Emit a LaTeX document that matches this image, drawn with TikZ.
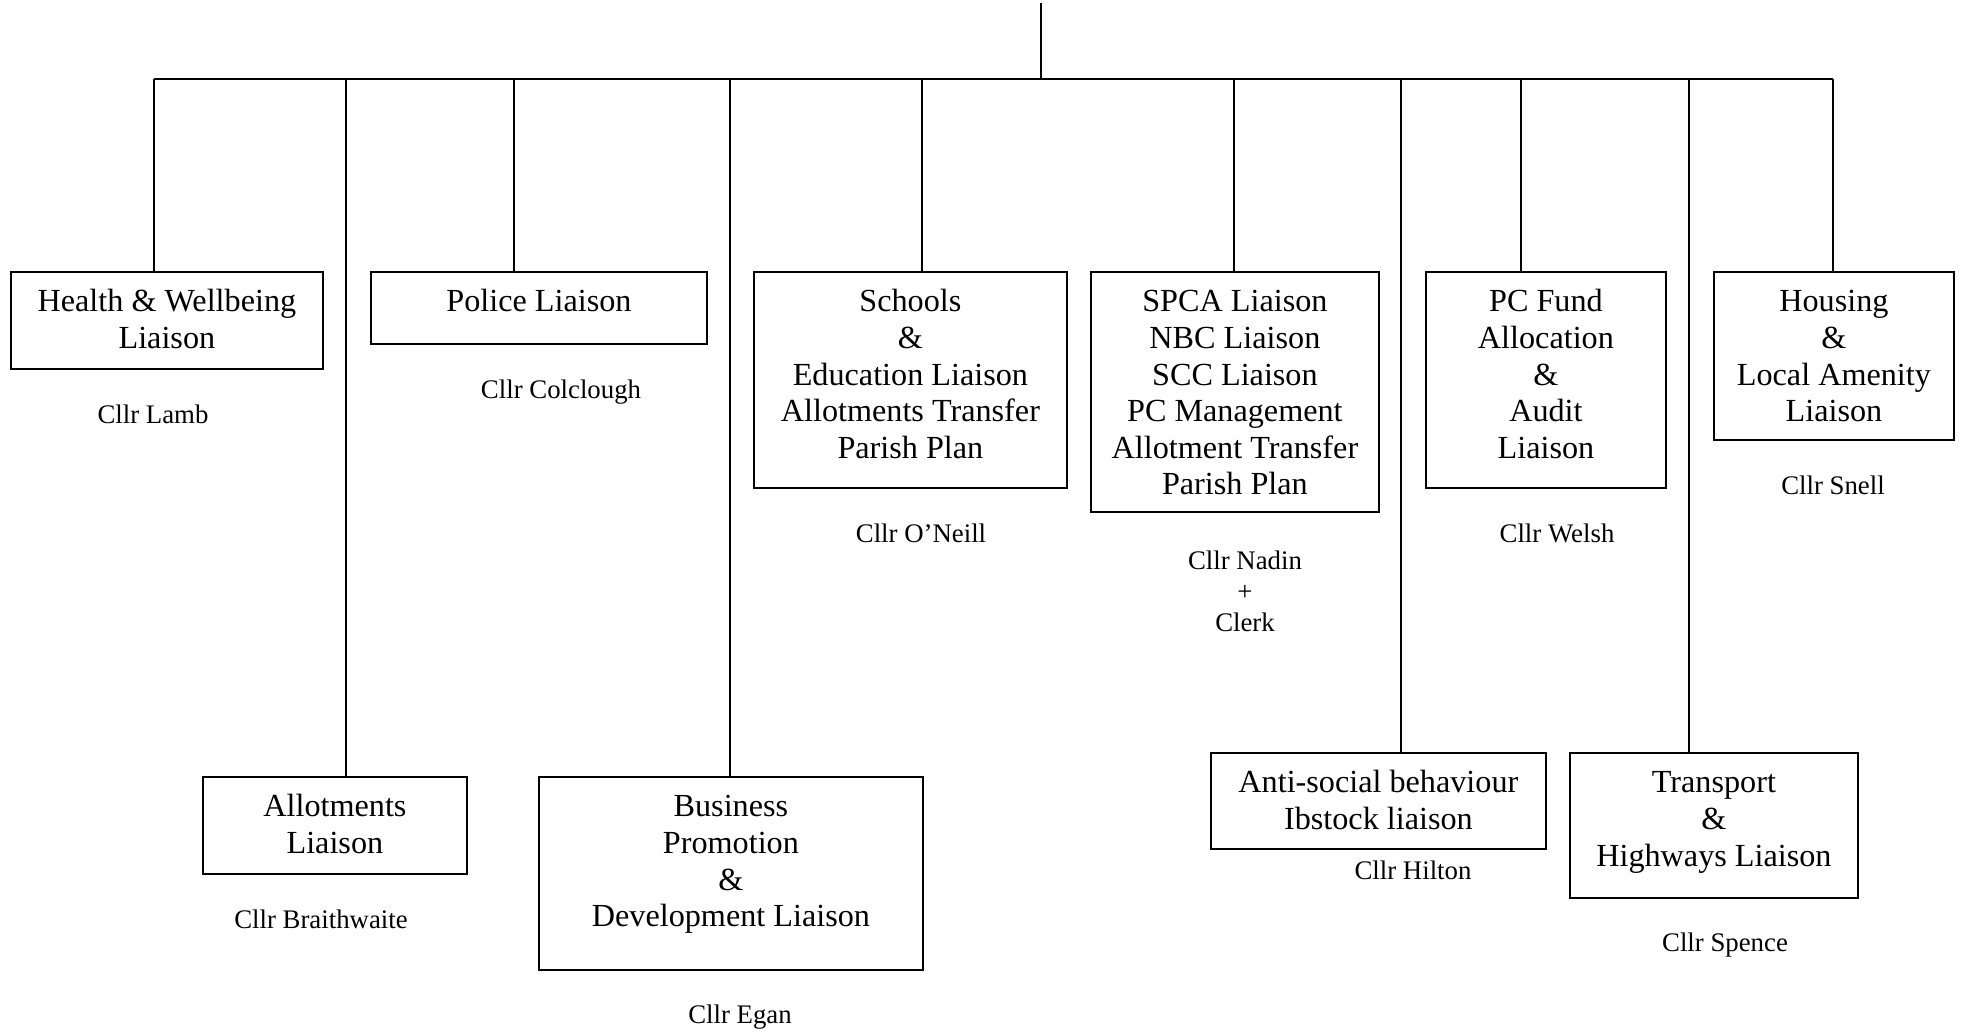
\documentclass[tikz,border=0pt]{standalone}
\usepackage{fontspec}
\setmainfont{Liberation Serif}
\newcommand{\bxt}[3]{\parbox[c][#2][t]{#1}{\centering\vspace*{7.2pt}\strut #3\par}}
\begin{document}
\begin{tikzpicture}[x=0.5pt,y=-0.5pt,
  box/.style={draw,line width=0.9pt,inner sep=0pt,anchor=north west,font=\fontsize{16.1}{18.3}\selectfont},
  cllr/.style={inner sep=0pt,align=center,text height=0.68em,text depth=0pt,font=\fontsize{13.4}{15.5}\selectfont},
  conn/.style={line width=0.8pt}]
\useasboundingbox (0,0) rectangle (1962,1032);
% boxes
\node[box] (hw) at (10,271) {\bxt{156pt}{48.5pt}{Health \& Wellbeing\\Liaison}};
\node[box] (pol) at (370,271) {\bxt{168pt}{36pt}{Police Liaison}};
\node[box] (all) at (202,776) {\bxt{132pt}{48.5pt}{Allotments\\Liaison}};
\node[box] (bus) at (538,776) {\bxt{192pt}{96.5pt}{Business\\Promotion\\\&\\Development Liaison}};
\node[box] (sch) at (753,271) {\bxt{156.5pt}{108pt}{Schools\\\&\\Education Liaison\\Allotments Transfer\\Parish Plan}};
\node[box] (spca) at (1090,271) {\bxt{144pt}{120pt}{SPCA Liaison\\NBC Liaison\\SCC Liaison\\PC Management\\Allotment Transfer\\Parish Plan}};
\node[box] (asb) at (1210,752) {\bxt{167.5pt}{48pt}{Anti-social behaviour\\Ibstock liaison}};
\node[box] (pcf) at (1425,271) {\bxt{120pt}{108pt}{PC Fund\\Allocation\\\&\\Audit\\Liaison}};
\node[box] (tra) at (1569,752) {\bxt{144pt}{72.5pt}{Transport\\\&\\Highways Liaison}};
\node[box] (hou) at (1713,271) {\bxt{120pt}{84pt}{Housing\\\&\\Local Amenity\\Liaison}};
% councillors
\node[cllr] (c1) at (153,417) {Cllr Lamb};
\node[cllr] (c2) at (561,392) {Cllr Colclough};
\node[cllr] (c3) at (321,922) {Cllr Braithwaite};
\node[cllr] (c4) at (740,1017) {Cllr Egan};
\node[cllr] (c5) at (921,536) {Cllr O’Neill};
\node[cllr,text height=,text depth=] (c6) at (1245,591) {Cllr Nadin\\+\\Clerk};
\node[cllr] (c7) at (1413,873) {Cllr Hilton};
\node[cllr] (c8) at (1557,536) {Cllr Welsh};
\node[cllr] (c9) at (1725,945) {Cllr Spence};
\node[cllr] (c10) at (1833,488) {Cllr Snell};
% connectors
\coordinate (root) at (1041,3);
\coordinate (jr) at (1041,79);
\coordinate (j1) at (154,79);
\coordinate (j2) at (346,79);
\coordinate (j3) at (514,79);
\coordinate (j4) at (730,79);
\coordinate (j5) at (922,79);
\coordinate (j6) at (1234,79);
\coordinate (j7) at (1401,79);
\coordinate (j8) at (1521,79);
\coordinate (j9) at (1689,79);
\coordinate (j10) at (1833,79);
\draw[conn] (root) -- (jr);
\draw[conn] (j1) -- (j10);
\draw[conn] (j1) -- (j1 |- hw.north);
\draw[conn] (j2) -- (j2 |- all.north);
\draw[conn] (j3) -- (j3 |- pol.north);
\draw[conn] (j4) -- (j4 |- bus.north);
\draw[conn] (j5) -- (j5 |- sch.north);
\draw[conn] (j6) -- (j6 |- spca.north);
\draw[conn] (j7) -- (j7 |- asb.north);
\draw[conn] (j8) -- (j8 |- pcf.north);
\draw[conn] (j9) -- (j9 |- tra.north);
\draw[conn] (j10) -- (j10 |- hou.north);
\end{tikzpicture}
\end{document}
